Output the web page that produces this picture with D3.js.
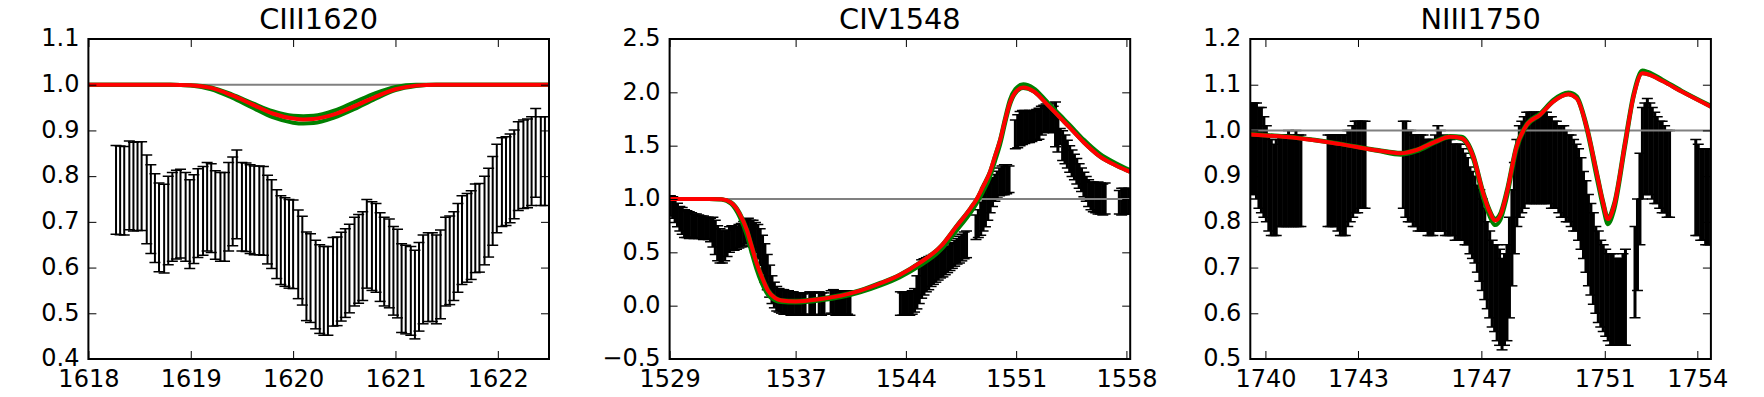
<!DOCTYPE html>
<html>
<head>
<meta charset="utf-8">
<script src="https://cdn.jsdelivr.net/npm/d3@7"></script>
<style>
  html, body { margin: 0; padding: 0; background: #fff; }
  svg { display: block; font-family: "DejaVu Sans", sans-serif; }
</style>
</head>
<body>
<svg id="chart" width="1764" height="397"></svg>
<script>
// ---- CIII1620 panel ----
const ciiiWave = [1618.27,1618.31,1618.35,1618.40,1618.44,1618.48,1618.52,1618.57,1618.61,1618.65,
  1618.69,1618.74,1618.78,1618.82,1618.86,1618.90,1618.95,1618.99,1619.03,1619.07,
  1619.12,1619.16,1619.20,1619.24,1619.29,1619.33,1619.37,1619.41,1619.45,1619.50,
  1619.54,1619.58,1619.62,1619.67,1619.71,1619.75,1619.79,1619.84,1619.88,1619.92,
  1619.96,1620.00,1620.05,1620.09,1620.13,1620.17,1620.22,1620.26,1620.30,1620.34,
  1620.39,1620.43,1620.47,1620.51,1620.55,1620.60,1620.64,1620.68,1620.72,1620.77,
  1620.81,1620.85,1620.89,1620.94,1620.98,1621.02,1621.06,1621.10,1621.15,1621.19,
  1621.23,1621.27,1621.32,1621.36,1621.40,1621.44,1621.49,1621.53,1621.57,1621.61,
  1621.65,1621.70,1621.74,1621.78,1621.82,1621.87,1621.91,1621.95,1621.99,1622.04,
  1622.08,1622.12,1622.16,1622.20,1622.25,1622.29,1622.33,1622.37,1622.42,1622.46];
const ciiiFlux = [0.770,0.769,0.768,0.780,0.777,0.778,0.778,0.749,0.728,0.708,
  0.688,0.685,0.703,0.711,0.716,0.718,0.711,0.695,0.706,0.719,
  0.724,0.733,0.730,0.715,0.711,0.711,0.733,0.745,0.760,0.733,
  0.732,0.728,0.725,0.725,0.724,0.705,0.695,0.673,0.660,0.656,
  0.652,0.651,0.629,0.615,0.581,0.577,0.563,0.553,0.549,0.549,
  0.569,0.570,0.580,0.588,0.598,0.613,0.619,0.625,0.652,0.647,
  0.643,0.623,0.613,0.609,0.593,0.587,0.555,0.552,0.549,0.541,
  0.558,0.574,0.579,0.579,0.574,0.585,0.613,0.616,0.625,0.643,
  0.660,0.665,0.671,0.686,0.687,0.703,0.720,0.746,0.773,0.787,
  0.789,0.795,0.804,0.822,0.826,0.828,0.833,0.851,0.833,0.833];
const ciiiErr = 0.097;
const ciiiModelWave = [1618.0,1618.8,1619.0,1619.2,1619.4,1619.6,1619.8,1620.0,1620.1,1620.2,1620.4,1620.6,1620.8,1621.0,1621.2,1621.4,1622.5];
const ciiiRed     = [1.0,1.0,0.999,0.993,0.977,0.957,0.937,0.926,0.924,0.925,0.935,0.953,0.973,0.990,0.998,1.0,1.0];
const ciiiGreenHi = [1.0,1.0,0.999,0.994,0.979,0.960,0.942,0.932,0.931,0.932,0.943,0.962,0.981,0.995,1.0,1.0,1.0];
const ciiiGreenLo = [1.0,1.0,0.998,0.990,0.972,0.950,0.929,0.917,0.915,0.916,0.928,0.947,0.969,0.988,0.997,1.0,1.0];
const ciiiXTicks = [1618,1619,1620,1621,1622];
const ciiiYTicks = [0.4,0.5,0.6,0.7,0.8,0.9,1.0,1.1];

// ---- CIV1548 panel ----
const civWave = [1529.05,1529.20,1529.35,1529.50,1529.65,1529.80,1529.95,1530.10,1530.25,1530.40,
  1530.55,1530.70,1530.85,1531.00,1531.15,1531.30,1531.45,1531.60,1531.75,1531.90,
  1532.05,1532.20,1532.35,1532.50,1532.65,1532.80,1532.95,1533.10,1533.25,1533.40,
  1533.55,1533.70,1533.85,1534.00,1534.15,1534.30,1534.45,1534.60,1534.75,1534.90,
  1535.05,1535.20,1535.35,1535.50,1535.65,1535.80,1535.95,1536.10,1536.25,1536.40,
  1536.55,1536.70,1536.85,1537.00,1537.15,1537.30,1537.45,
  1537.60,1537.90,1538.05,1538.20,1538.50,1538.65,1538.80,1539.25,1539.40,1539.55,1539.70,1539.85,1540.00,1540.15,1540.30,1540.45,
  1543.65,1543.80,1543.95,1544.10,1544.25,1544.40,1544.55,1544.70,1544.85,1545.00,
  1545.15,1545.30,1545.45,1545.60,1545.75,1545.90,1546.05,1546.20,1546.35,1546.50,
  1546.65,1546.80,1546.95,1547.10,1547.25,1547.40,1547.55,1547.70,1547.85,
  1548.45,1548.60,1548.75,1548.90,1549.05,1549.20,1549.35,1549.50,1549.65,1549.80,1549.95,1550.10,1550.25,1550.40,1550.55,
  1550.95,1551.10,1551.25,1551.40,1551.55,1551.70,1551.85,1552.00,1552.15,1552.30,
  1552.45,1552.60,1552.75,1552.90,1553.05,1553.20,1553.35,1553.50,1553.65,1553.80,
  1553.95,1554.10,1554.25,1554.40,1554.55,1554.70,1554.85,1555.00,1555.15,1555.30,
  1555.45,1555.60,1555.75,1555.90,1556.05,1556.20,1556.35,1556.50,1556.65,
  1557.55,1557.70,1557.85,1558.00,1558.15];
const civHi = [1.03,1.02,0.99,0.96,0.93,0.92,0.90,0.89,0.88,0.87,
  0.86,0.86,0.85,0.84,0.84,0.83,0.83,0.82,0.83,0.80,
  0.75,0.72,0.70,0.70,0.71,0.74,0.75,0.73,0.74,0.76,
  0.77,0.79,0.81,0.82,0.80,0.80,0.78,0.76,0.72,0.66,
  0.58,0.48,0.38,0.28,0.22,0.18,0.16,0.15,0.15,0.14,
  0.14,0.13,0.13,0.12,0.12,0.12,0.11,
  0.12,0.13,0.12,0.12,0.13,0.12,0.12,0.14,0.15,0.14,0.13,0.14,0.13,0.12,0.14,0.12,
  0.13,0.12,0.13,0.12,0.13,0.14,0.16,0.28,0.38,0.43,
  0.44,0.45,0.46,0.47,0.48,0.49,0.50,0.51,0.53,0.55,
  0.56,0.58,0.59,0.61,0.63,0.65,0.67,0.69,0.70,
  0.85,0.90,0.97,1.04,1.10,1.14,1.17,1.20,1.23,1.26,1.29,1.31,1.32,1.32,1.31,
  1.74,1.79,1.82,1.83,1.83,1.82,1.83,1.82,1.83,1.84,
  1.85,1.87,1.88,1.89,1.90,1.89,1.87,1.91,1.76,1.66,
  1.64,1.60,1.55,1.50,1.46,1.42,1.38,1.33,1.29,1.25,
  1.21,1.18,1.16,1.16,1.15,1.16,1.15,1.14,1.15,
  1.08,1.10,1.10,1.09,1.10];
const civLo = [0.84,0.82,0.78,0.74,0.70,0.67,0.64,0.64,0.63,0.64,
  0.63,0.64,0.63,0.63,0.62,0.63,0.62,0.60,0.55,0.48,
  0.42,0.40,0.40,0.42,0.46,0.50,0.52,0.52,0.53,0.54,
  0.55,0.56,0.58,0.58,0.56,0.55,0.50,0.44,0.38,0.30,
  0.22,0.15,0.08,0.02,-0.02,-0.05,-0.06,-0.07,-0.08,-0.08,
  -0.08,-0.09,-0.09,-0.08,-0.09,-0.09,-0.08,
  -0.08,-0.09,-0.09,-0.08,-0.09,-0.09,-0.08,-0.07,-0.08,-0.09,-0.08,-0.09,-0.08,-0.09,-0.08,-0.09,
  -0.09,-0.09,-0.08,-0.09,-0.09,-0.08,-0.06,-0.03,0.02,0.07,
  0.10,0.13,0.15,0.18,0.20,0.22,0.24,0.26,0.27,0.29,
  0.31,0.33,0.35,0.37,0.39,0.40,0.42,0.44,0.45,
  0.62,0.64,0.66,0.70,0.74,0.80,0.87,0.93,0.98,1.01,1.03,1.04,1.04,1.05,1.06,
  1.47,1.48,1.50,1.51,1.52,1.53,1.53,1.54,1.55,1.55,
  1.56,1.60,1.62,1.63,1.63,1.64,1.62,1.49,1.44,1.51,
  1.36,1.33,1.29,1.25,1.21,1.18,1.14,1.10,1.07,1.02,
  0.98,0.93,0.90,0.88,0.87,0.86,0.86,0.85,0.86,
  0.86,0.85,0.86,0.86,0.86];
const civModelWave = [1529.0,1531.5,1532.3,1532.9,1533.45,1533.9,1534.2,1534.5,1534.85,1535.25,
  1535.7,1536.1,1537.0,1538.6,1539.9,1541.1,1542.4,1543.6,1544.9,1546.2,
  1547.2,1548.1,1548.5,1548.9,1549.35,1549.65,1550.0,1550.3,1550.6,1550.95,
  1551.45,1552.1,1552.95,1553.8,1554.4,1555.3,1556.3,1557.4,1558.24];
const civRed = [1.0,1.0,0.997,0.965,0.86,0.71,0.56,0.41,0.27,0.14,
  0.07,0.048,0.04,0.063,0.094,0.141,0.21,0.288,0.404,0.553,
  0.741,0.913,1.0,1.116,1.257,1.397,1.56,1.74,1.90,2.00,
  2.045,2.01,1.89,1.76,1.67,1.53,1.40,1.31,1.255];
const civGreenHi = [1.0,1.0,0.998,0.97,0.87,0.72,0.57,0.42,0.28,0.15,
  0.075,0.05,0.045,0.068,0.10,0.145,0.215,0.29,0.405,0.555,
  0.745,0.915,1.0,1.12,1.26,1.40,1.57,1.76,1.93,2.03,
  2.075,2.04,1.915,1.785,1.695,1.555,1.425,1.33,1.27];
const civGreenLo = [1.0,1.0,0.995,0.955,0.83,0.66,0.50,0.35,0.21,0.10,
  0.05,0.035,0.03,0.05,0.08,0.125,0.19,0.265,0.375,0.52,
  0.70,0.87,0.96,1.07,1.21,1.35,1.52,1.71,1.88,1.99,
  2.04,2.01,1.89,1.76,1.67,1.53,1.40,1.31,1.255];
const civXTicks = [1529,1537,1544,1551,1558];
const civYTicks = [-0.5,0.0,0.5,1.0,1.5,2.0,2.5];

// ---- NIII1750 panel ----
const niiiWave = [1739.55,1739.63,1739.71,1739.79,1739.87,1739.95,1740.03,1740.11,1740.19,1740.27,
  1740.35,1740.43,1740.51,1740.59,1740.67,1740.75,1740.83,1740.91,1740.99,1741.07,1741.15,
  1742.03,1742.11,1742.19,1742.27,1742.35,1742.43,1742.51,1742.59,1742.67,1742.75,
  1742.83,1742.91,1742.99,1743.07,1743.15,1743.23,
  1744.47,1744.55,1744.63,1744.71,1744.79,1744.87,1744.95,1745.03,1745.11,1745.19,
  1745.27,1745.35,1745.43,1745.51,1745.59,1745.67,1745.75,1745.83,1745.91,1745.99,
  1746.07,1746.15,1746.23,1746.31,1746.39,1746.47,1746.55,1746.63,1746.71,1746.79,
  1746.87,1746.95,1747.03,1747.11,1747.19,1747.27,1747.35,1747.43,1747.51,1747.59,
  1747.67,1747.75,1747.83,1747.91,1747.99,1748.07,1748.15,1748.23,1748.31,1748.39,
  1748.47,1748.55,1748.63,1748.71,1748.79,1748.87,1748.95,1749.03,1749.11,1749.19,
  1749.27,1749.35,1749.43,1749.51,1749.59,1749.67,1749.75,1749.83,1749.91,1749.99,
  1750.07,1750.15,1750.23,1750.31,1750.39,1750.47,1750.55,1750.63,1750.71,1750.79,
  1750.87,1750.95,1751.03,1751.11,1751.19,1751.27,1751.35,1751.43,1751.51,1751.59,1751.67,
  1751.98,1752.06,1752.14,1752.22,1752.30,1752.38,1752.46,1752.54,1752.62,1752.70,
  1752.78,1752.86,1752.94,1753.02,1753.10,
  1753.95,1754.03,1754.11,1754.19,1754.27,1754.35,1754.43];
const niiiHi = [1.06,1.06,1.06,1.05,1.05,1.03,1.01,0.99,0.98,0.97,
  0.98,0.99,0.99,0.99,0.99,1.00,0.99,0.99,1.00,0.99,0.99,
  0.99,0.99,0.99,0.99,0.99,0.99,0.99,0.99,1.00,1.00,
  1.01,1.02,1.02,1.02,1.02,1.02,
  1.02,1.02,1.00,1.00,0.99,0.99,0.99,0.99,0.99,0.98,
  0.98,0.98,0.98,0.99,1.01,1.00,0.99,0.98,0.98,0.98,
  0.97,0.97,0.97,0.97,0.96,0.95,0.94,0.92,0.91,0.90,
  0.88,0.87,0.85,0.83,0.80,0.78,0.76,0.75,0.75,0.74,
  0.72,0.73,0.75,0.81,0.87,0.93,0.98,1.01,1.02,1.03,
  1.04,1.04,1.04,1.04,1.04,1.04,1.04,1.04,1.04,1.03,
  1.03,1.02,1.02,1.01,1.01,1.01,1.00,0.99,0.99,0.98,
  0.97,0.96,0.94,0.91,0.89,0.86,0.84,0.82,0.79,0.78,
  0.76,0.75,0.74,0.73,0.73,0.73,0.72,0.72,0.72,0.73,0.74,
  0.79,0.85,0.95,1.05,1.06,1.07,1.06,1.05,1.04,1.03,
  1.02,1.02,1.01,1.00,1.00,
  0.98,0.97,0.96,0.96,0.96,0.96,0.96];
const niiiLo = [0.86,0.86,0.85,0.83,0.82,0.81,0.80,0.78,0.77,0.77,
  0.77,0.79,0.79,0.79,0.79,0.79,0.79,0.79,0.79,0.79,0.79,
  0.79,0.79,0.79,0.79,0.78,0.77,0.77,0.77,0.79,0.80,
  0.81,0.82,0.82,0.83,0.83,0.83,
  0.83,0.81,0.80,0.80,0.79,0.79,0.78,0.78,0.78,0.78,
  0.77,0.77,0.77,0.78,0.78,0.78,0.78,0.77,0.77,0.77,
  0.77,0.76,0.76,0.76,0.76,0.75,0.75,0.73,0.72,0.71,
  0.69,0.67,0.65,0.63,0.61,0.59,0.57,0.56,0.54,0.53,
  0.52,0.53,0.54,0.59,0.66,0.73,0.79,0.81,0.82,0.83,
  0.84,0.84,0.84,0.84,0.84,0.84,0.84,0.84,0.84,0.84,
  0.83,0.83,0.83,0.82,0.81,0.81,0.80,0.80,0.79,0.78,
  0.78,0.76,0.74,0.72,0.69,0.66,0.64,0.62,0.60,0.58,
  0.57,0.56,0.55,0.54,0.53,0.53,0.53,0.53,0.53,0.53,0.53,
  0.59,0.65,0.75,0.85,0.86,0.86,0.86,0.85,0.84,0.84,
  0.83,0.82,0.82,0.81,0.81,
  0.77,0.77,0.76,0.76,0.75,0.75,0.75];
const niiiModelWave = [1739.51,1741.08,1742.43,1743.66,1744.39,1744.89,1745.5,1745.99,1746.36,1746.74,
  1747.06,1747.25,1747.45,1747.62,1747.82,1748.14,1748.47,1748.9,1749.33,1749.82,
  1750.09,1750.41,1750.74,1750.95,1751.1,1751.3,1751.66,1751.93,1752.22,1752.4,
  1752.87,1753.49,1754.44];
const niiiRed = [0.991,0.983,0.970,0.956,0.950,0.957,0.975,0.986,0.983,0.942,
  0.862,0.825,0.803,0.815,0.862,0.964,1.012,1.034,1.063,1.079,
  1.070,1.008,0.906,0.840,0.806,0.835,0.972,1.074,1.125,1.123,
  1.108,1.085,1.052];
const niiiGreenHi = [0.992,0.984,0.971,0.957,0.951,0.958,0.977,0.988,0.986,0.946,
  0.866,0.829,0.807,0.820,0.868,0.968,1.015,1.037,1.067,1.083,
  1.075,1.012,0.910,0.844,0.810,0.840,0.978,1.080,1.131,1.128,
  1.111,1.087,1.054];
const niiiGreenLo = [0.991,0.983,0.970,0.955,0.947,0.954,0.973,0.985,0.981,0.936,
  0.852,0.815,0.793,0.805,0.852,0.958,1.010,1.033,1.063,1.079,
  1.070,1.003,0.896,0.830,0.795,0.825,0.965,1.072,1.125,1.123,
  1.108,1.085,1.052];
const niiiXTicks = [1740,1743,1747,1751,1754];
const niiiYTicks = [0.5,0.6,0.7,0.8,0.9,1.0,1.1,1.2];

// ---- layout ----
const svg = d3.select('#chart');
const panelTop = 39;
const panelHeight = 320;
const panelWidth = 460.6;
const capWidth = 11;

function drawPanel(opts) {
    const g = svg.append('g')
        .attr('transform', `translate(${opts.left},${panelTop})`);

    const x = d3.scaleLinear().domain(opts.xDomain).range([0, panelWidth]);
    const y = d3.scaleLinear().domain(opts.yDomain).range([panelHeight, 0]);

    const clipId = 'clip-' + opts.id;
    g.append('clipPath').attr('id', clipId)
        .append('rect').attr('width', panelWidth).attr('height', panelHeight);

    const plot = g.append('g').attr('clip-path', `url(#${clipId})`);

    // error bars
    const bars = plot.append('g').attr('stroke', '#000');
    opts.wave.forEach((w, i) => {
        const cx = x(w);
        const yHi = y(opts.hi[i]);
        const yLo = y(opts.lo[i]);
        bars.append('line')
            .attr('x1', cx).attr('x2', cx)
            .attr('y1', yHi).attr('y2', yLo)
            .attr('stroke-width', opts.barWidth);
        [yHi, yLo].forEach(cy => {
            bars.append('line')
                .attr('x1', cx - capWidth / 2).attr('x2', cx + capWidth / 2)
                .attr('y1', cy).attr('y2', cy)
                .attr('stroke-width', 1.5);
        });
    });

    // continuum level
    plot.append('line')
        .attr('x1', 0).attr('x2', panelWidth)
        .attr('y1', y(1)).attr('y2', y(1))
        .attr('stroke', '#808080')
        .attr('stroke-width', 2);

    // model curves
    const line = d3.line()
        .x(d => x(d[0]))
        .y(d => y(d[1]))
        .curve(d3.curveMonotoneX);
    const curves = [
        [opts.greenHi, '#008000'],
        [opts.greenLo, '#008000'],
        [opts.red, '#ff0000']
    ];
    curves.forEach(([vals, color]) => {
        plot.append('path')
            .datum(opts.modelWave.map((w, i) => [w, vals[i]]))
            .attr('d', line)
            .attr('fill', 'none')
            .attr('stroke', color)
            .attr('stroke-width', 4)
            .attr('stroke-linejoin', 'round');
    });

    // ticks (inward on all four sides)
    const styleAxis = (sel) => {
        sel.select('.domain').remove();
        sel.selectAll('.tick line').attr('stroke', '#000').attr('stroke-width', 1);
        sel.selectAll('text')
            .attr('font-family', '"DejaVu Sans", sans-serif')
            .attr('font-size', 24)
            .attr('fill', '#000');
    };

    g.append('g')
        .attr('transform', `translate(0,${panelHeight})`)
        .call(d3.axisBottom(x).tickValues(opts.xTicks).tickSize(-8).tickPadding(10.5).tickFormat(d3.format('d')))
        .call(styleAxis);
    g.append('g')
        .call(d3.axisTop(x).tickValues(opts.xTicks).tickSize(-8).tickFormat(''))
        .call(styleAxis);
    g.append('g')
        .call(d3.axisLeft(y).tickValues(opts.yTicks).tickSize(-8).tickPadding(9).tickFormat(d3.format('.1f')))
        .call(styleAxis)
        .selectAll('text').attr('dy', '0.28em');
    g.append('g')
        .attr('transform', `translate(${panelWidth},0)`)
        .call(d3.axisRight(y).tickValues(opts.yTicks).tickSize(-8).tickFormat(''))
        .call(styleAxis);

    // frame
    g.append('rect')
        .attr('width', panelWidth).attr('height', panelHeight)
        .attr('fill', 'none')
        .attr('stroke', '#000')
        .attr('stroke-width', 2);

    // title
    g.append('text')
        .attr('x', panelWidth / 2)
        .attr('y', -9.7)
        .attr('text-anchor', 'middle')
        .attr('font-size', 28.8)
        .attr('fill', '#000')
        .text(opts.title);
}

// CIII: symmetric errors around the flux
drawPanel({
    id: 'ciii', title: 'CIII1620', left: 88.4, barWidth: 2,
    xDomain: [1618, 1622.5], yDomain: [0.4, 1.1],
    xTicks: ciiiXTicks, yTicks: ciiiYTicks,
    wave: ciiiWave,
    hi: ciiiFlux.map(f => f + ciiiErr),
    lo: ciiiFlux.map(f => f - ciiiErr),
    modelWave: ciiiModelWave, red: ciiiRed, greenHi: ciiiGreenHi, greenLo: ciiiGreenLo
});

drawPanel({
    id: 'civ', title: 'CIV1548', left: 669.6, barWidth: 3,
    xDomain: [1529, 1558.24], yDomain: [-0.5, 2.5],
    xTicks: civXTicks, yTicks: civYTicks,
    wave: civWave, hi: civHi, lo: civLo,
    modelWave: civModelWave, red: civRed, greenHi: civGreenHi, greenLo: civGreenLo
});

drawPanel({
    id: 'niii', title: 'NIII1750', left: 1250.3, barWidth: 3,
    xDomain: [1739.51, 1754.44], yDomain: [0.5, 1.2],
    xTicks: niiiXTicks, yTicks: niiiYTicks,
    wave: niiiWave, hi: niiiHi, lo: niiiLo,
    modelWave: niiiModelWave, red: niiiRed, greenHi: niiiGreenHi, greenLo: niiiGreenLo
});
</script>
</body>
</html>
